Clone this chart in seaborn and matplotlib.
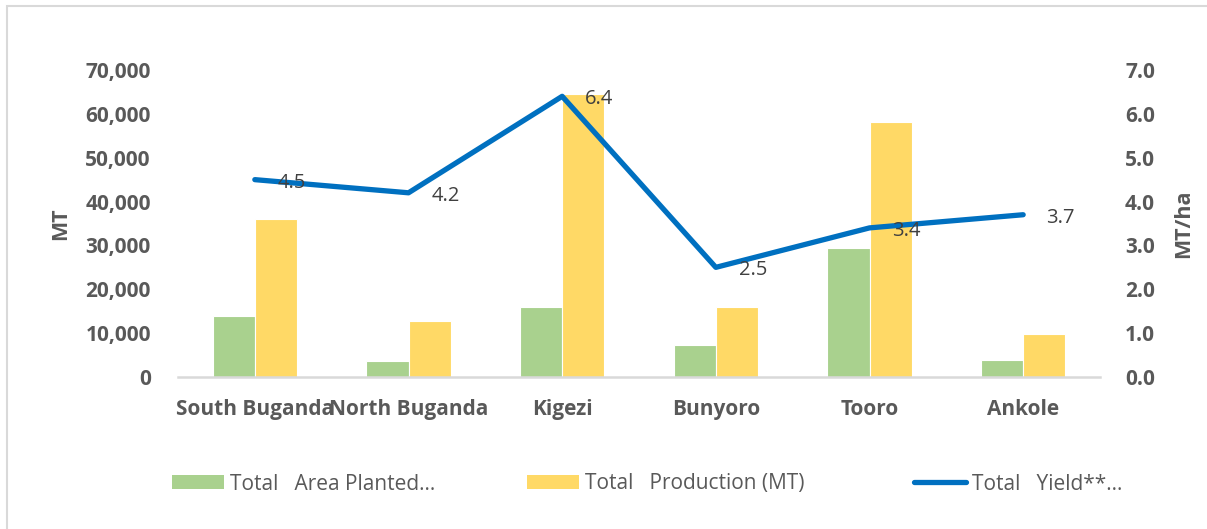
import numpy as np
import pandas as pd
import matplotlib
matplotlib.use("Agg")
import matplotlib.pyplot as plt
from matplotlib.patches import Rectangle, Patch
from matplotlib.lines import Line2D
import seaborn as sns

# Regional figures
regions = ["South Buganda", "North Buganda", "Kigezi", "Bunyoro", "Tooro", "Ankole"]
area_planted = [13900, 3650, 16000, 7300, 29400, 3900]
production_mt = [36000, 12800, 64500, 16000, 58100, 9800]
yield_mt_ha = [4.5, 4.2, 6.4, 2.5, 3.4, 3.7]

series_names = ["Total   Area Planted…", "Total   Production (MT)", "Total   Yield**…"]
left_ticks = [0, 10000, 20000, 30000, 40000, 50000, 60000, 70000]
right_ticks = [0, 1, 2, 3, 4, 5, 6, 7]

GREEN = "#A9D18E"
YELLOW = "#FFD966"
BLUE = "#0070C0"
GREY_TXT = "#595959"
LABEL_TXT = "#404040"
AXIS_LINE = "#D9D9D9"

sns.set_theme(style="white")
plt.rcParams["font.family"] = ["Open Sans", "DejaVu Sans"]

bars = pd.DataFrame({
    "region": regions * 2,
    "value": area_planted + production_mt,
    "series": [series_names[0]] * len(regions) + [series_names[1]] * len(regions),
})

W, H = 1207, 529
fig = plt.figure(figsize=(W / 100, H / 100), dpi=100)
ax = fig.add_axes([178 / W, 1 - 377 / H, (1100 - 178) / W, (377 - 70) / H])

sns.barplot(data=bars, x="region", y="value", hue="series", order=regions,
            hue_order=series_names[:2], palette=[GREEN, YELLOW], width=0.55,
            edgecolor="white", linewidth=0.8, saturation=1, legend=False, ax=ax)

ax2 = ax.twinx()
sns.lineplot(x=np.arange(len(regions)), y=yield_mt_ha, color=BLUE, linewidth=3.8,
             solid_capstyle="round", solid_joinstyle="round", ax=ax2, legend=False)

for i, v in enumerate(yield_mt_ha):
    ax2.annotate(f"{v:.1f}", (i, v), xytext=(23, -3), textcoords="offset pixels",
                 ha="left", va="center", fontsize=14.5, color=LABEL_TXT)

ax.set_xlim(-0.5, len(regions) - 0.5)
ax.set_ylim(0, 70000)
ax2.set_ylim(0, 7)
ax.set_yticks(left_ticks)
ax.set_yticklabels([f"{t:,}" for t in left_ticks])
ax2.set_yticks(right_ticks)
ax2.set_yticklabels([f"{t:.1f}" for t in right_ticks])

for a in (ax, ax2):
    for s in a.spines.values():
        s.set_visible(False)
    a.grid(False)
    a.tick_params(length=0)
ax.spines["bottom"].set_visible(True)
ax.spines["bottom"].set_color(AXIS_LINE)
ax.spines["bottom"].set_linewidth(1.8)

ax.tick_params(axis="y", pad=19.5)
ax2.tick_params(axis="y", pad=18)
ax.tick_params(axis="x", pad=16)
for lab in ax.get_yticklabels() + ax2.get_yticklabels() + ax.get_xticklabels():
    lab.set_fontweight("bold")
    lab.set_fontsize(15)
    lab.set_color(GREY_TXT)

ax.set_xlabel("")
ax.set_ylabel("MT", fontsize=15.5, fontweight="bold", color=GREY_TXT, labelpad=10)
ax2.set_ylabel("MT/ha", fontsize=15.5, fontweight="bold", color=GREY_TXT, labelpad=13)

# legend entries laid out along the bottom
legend_font = {"family": ["Open Sans", "DejaVu Sans"], "size": 15}
handles = [
    Patch(facecolor=GREEN, edgecolor="none"),
    Patch(facecolor=YELLOW, edgecolor="none"),
    Line2D([], [], color=BLUE, linewidth=3.8, solid_capstyle="round"),
]
starts = [172, 527, 914]
for h, name, x0 in zip(handles, series_names, starts):
    lg = fig.legend([h], [name], loc="center left", bbox_to_anchor=(x0 / W, 1 - 484 / H),
                    frameon=False, borderpad=0, borderaxespad=0, handlelength=2.5,
                    handleheight=0.65, handletextpad=0.3, prop=legend_font)
    for t in lg.get_texts():
        t.set_color(GREY_TXT)

fig.add_artist(Rectangle((6.5 / W, -1), 2, 2 - 5.5 / H, transform=fig.transFigure,
                         fill=False, edgecolor=AXIS_LINE, linewidth=1.5))

fig.savefig("out.png", dpi=100)
